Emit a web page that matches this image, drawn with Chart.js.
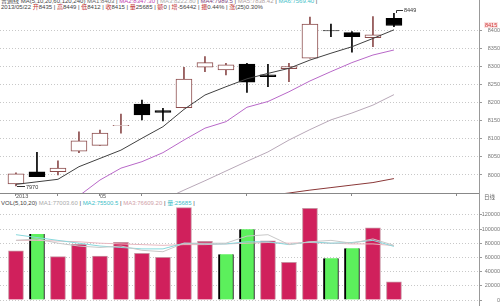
<!DOCTYPE html>
<html>
<head>
<meta charset="utf-8">
<script src="https://cdn.jsdelivr.net/npm/chart.js@4.4.0/dist/chart.umd.min.js"></script>
<style>
body{margin:0;background:#fff;width:500px;height:306px;overflow:hidden;position:relative;font-family:"Liberation Sans","Noto Sans CJK SC",sans-serif;}
.hd{position:absolute;left:1px;font-size:6px;line-height:6px;white-space:nowrap;color:#444;}
.hd b{font-weight:normal;color:#c03030;}
canvas{position:absolute;left:0;}
#vline{position:absolute;left:479px;top:0;width:1px;height:306px;background:#999;}
#tag{position:absolute;left:484px;top:22px;font-size:5.5px;line-height:6px;color:#d03030;background:#fbe3e3;padding:0 1px;}
#rx{position:absolute;left:484px;top:194px;font-size:5.5px;line-height:6px;color:#666;}
</style>
</head>
<body>
<div class="hd" style="top:-2px">普通线 MA(5,10,20,60,120,240) <span style="color:#666">MA1:8403</span> | <span style="color:#c040b0">MA2:8347.30</span> | <span style="color:#aaa">MA3:8222.80</span> | <span style="color:#7a3a7a">MA4:7989.5</span> | <span style="color:#b0a0a0">MA5:7838.42</span> | <span style="color:#40c0c8">MA6:7569.40</span> |</div>
<div class="hd" style="top:4px">2013/05/22 <b>开</b>8435 | <b>高</b>8449 | <b>低</b>8412 | <b>收</b>8415 | <b>量</b>25685 | <b>额</b>0 | <b>增</b>-56442 | <b>振</b>0.44% | <b>涨</b>(25)0.30%</div>
<div class="hd" style="top:200px">VOL(5,10,20) <span style="color:#aaa">MA1:77003.60</span> | <span style="color:#40c0c8">MA2:75500.5</span> | <span style="color:#d0a0a8">MA3:76609.20</span> | <span style="color:#40c0c8">量:25685</span> |</div>
<canvas id="main" width="500" height="200" style="top:0"></canvas>
<canvas id="vol" width="500" height="106" style="top:200px"></canvas>
<div id="vline"></div>
<div id="tag">8415</div>
<div id="rx">日线</div>
<script>
// daily bars 2013/04/23 - 2013/05/22
var dates = ['2013/04/23','04/24','04/25','04/26','05/02','05/03','05/06','05/07','05/08','05/09',
             '05/10','05/13','05/14','05/15','05/16','05/17','05/20','05/21','05/22'];
var open  = [7975, 8009, 8009, 8066, 8082, 8137, 8197, 8179, 8187, 8299, 8292, 8308, 8278, 8295, 8324, 8401, 8395, 8381, 8435];
var high  = [8006, 8063, 8039, 8120, 8125, 8169, 8208, 8185, 8299, 8329, 8310, 8310, 8307, 8310, 8438, 8419, 8398, 8440, 8449];
var low   = [7970, 7995, 8000, 8062, 8082, 8116, 8153, 8150, 8186, 8287, 8278, 8229, 8245, 8259, 8324, 8384, 8341, 8356, 8412];
var close = [8003, 7995, 8019, 8095, 8116, 8138, 8167, 8174, 8266, 8312, 8306, 8258, 8273, 8301, 8419, 8400, 8384, 8389, 8415];

var ma5  = [7974, 7981, 7988, 8023, 8046, 8069, 8102, 8134, 8182, 8222, 8245, 8267, 8282, 8296, 8319, 8338, 8356, 8379, 8403];
var ma10 = [null, null, null, 7942, 7986, 8019, 8037, 8062, 8097, 8130, 8148, 8188, 8204, 8231, 8261, 8287, 8312, 8333, 8347];
var ma20 = [null, null, null, null, null, null, null, 7931, 7958, 7984, 8011, 8038, 8064, 8097, 8126, 8153, 8172, 8194, 8223];
var ma60 = [null, null, null, null, null, null, null, null, null, null, null, null, 7943, 7950, 7958, 7965, 7972, 7979, 7990];

var volume = [69400, 93000, 61000, 78400, 62000, 81200, 65700, 60100, 130000, 82600, 64300, 99500, 83500, 53100, 129000, 58700, 72800, 101800, 25685];
var vma5  = [84000, 86000, 80000, 76000, 74000, 76000, 70000, 68000, 80000, 80000, 80000, 90000, 92000, 78000, 82000, 84000, 80000, 86000, 77004];
var vma10 = [92000, 88000, 84000, 80000, 76000, 74000, 72000, 72000, 80000, 79000, 79000, 82000, 82000, 78000, 82000, 80000, 81000, 84000, 75500];
var vma20 = [84000, 84000, 83000, 82000, 80000, 79000, 78000, 77000, 78000, 78000, 79000, 80000, 81000, 80000, 81000, 80000, 79000, 79000, 76609];

var priceTicks = [8000, 8050, 8100, 8150, 8200, 8250, 8300, 8350, 8400];
var volTicks = [0, 20000, 40000, 60000, 80000, 100000, 120000];
var xTicks = [0, 2, 4, 6, 11, 16, 21];
var xTickText = {0: '2013', 4: '05'};

var UP = '#8c4c4c', DOWN = '#000';
var tinyFont = {size: 5.5, family: 'Liberation Sans'};

function pts(arr) {
    var out = [];
    for (var i = 0; i < arr.length; i++) out.push({x: i, y: arr[i]});
    return out;
}
var bodies = [], wicks = [], bodyFill = [], bodyLine = [], wickCol = [], volCol = [], volLine = [], volBorder = [];
for (var i = 0; i < dates.length; i++) {
    var up = close[i] >= open[i];
    bodies.push({x: i, y: [open[i], close[i]]});
    wicks.push({x: i, y: [low[i], high[i]]});
    bodyFill.push(up ? '#fff' : DOWN);
    bodyLine.push(up ? UP : DOWN);
    wickCol.push(up ? UP : DOWN);
    var rise = i == 0 || close[i] >= close[i - 1];
    volCol.push(rise ? '#d0205c' : '#5cf05c');
    volLine.push(rise ? '#c890a0' : '#000');
    volBorder.push(rise ? 1 : {left: 2, right: 1, top: 0, bottom: 0});
}

var extremeLabels = {
    id: 'extremeLabels',
    afterDatasetsDraw: function (chart) {
        var ctx = chart.ctx, x = chart.scales.x, y = chart.scales.y;
        var hi = 0, lo = 0;
        for (var i = 1; i < high.length; i++) {
            if (high[i] > high[hi]) hi = i;
            if (low[i] < low[lo]) lo = i;
        }
        ctx.save();
        ctx.strokeStyle = '#333';
        ctx.fillStyle = '#333';
        ctx.lineWidth = 1;
        ctx.font = '5.5px "Liberation Sans"';
        ctx.textBaseline = 'middle';
        var px = Math.round(x.getPixelForValue(hi)), py = Math.round(y.getPixelForValue(high[hi]));
        ctx.beginPath();
        ctx.moveTo(px + 2.5, py);
        ctx.lineTo(px + 2.5, py - 2.5);
        ctx.lineTo(px + 9, py - 2.5);
        ctx.stroke();
        ctx.fillText(String(high[hi]), px + 10, py - 3);
        px = Math.round(x.getPixelForValue(lo));
        py = Math.round(y.getPixelForValue(low[lo]));
        ctx.beginPath();
        ctx.moveTo(px + 1, py + 0.5);
        ctx.lineTo(px + 9, py + 0.5);
        ctx.stroke();
        ctx.fillText(String(low[lo]), px + 10, py + 1);
        ctx.restore();
    }
};

function lineSet(data, color, order) {
    return {type: 'line', data: pts(data), borderColor: color, borderWidth: 1, pointRadius: 0,
            tension: 0, spanGaps: false, order: order};
}

function plain(v) { return String(v); }

var xMain = {
    type: 'linear', min: -0.76, max: 22.05, offset: false,
    afterFit: function (s) { s.height = 7; },
    afterBuildTicks: function (s) { s.ticks = xTicks.map(function (v) { return {value: v}; }); },
    ticks: {
        font: tinyFont, color: '#555', align: 'start', padding: -3, autoSkip: false, maxRotation: 0,
        callback: function (v) { return xTickText[v] || ''; }
    },
    grid: {drawOnChartArea: false, drawTicks: true, tickLength: 3, tickColor: '#888', offset: false},
    border: {display: true, color: '#888'}
};

new Chart(document.getElementById('main'), {
    type: 'bar',
    data: {
        datasets: [
            lineSet(ma5, '#404040', 0),
            lineSet(ma10, '#b868c8', 0),
            lineSet(ma20, '#b8a8b8', 0),
            lineSet(ma60, '#8a3838', 0),
            {data: bodies, backgroundColor: bodyFill, borderColor: bodyLine, borderWidth: 1,
             borderSkipped: false, barThickness: 16, grouped: false, order: 1},
            {data: wicks, backgroundColor: wickCol, borderWidth: 0, barThickness: 1, grouped: false, order: 2}
        ]
    },
    options: {
        responsive: false, animation: false, events: [],
        layout: {padding: {top: 10, left: 0, right: 0, bottom: 0}},
        plugins: {legend: {display: false}, tooltip: {enabled: false}},
        scales: {
            x: xMain,
            y: {
                position: 'right', min: 7950, max: 8458,
                afterFit: function (s) { s.width = 21; },
                afterBuildTicks: function (s) { s.ticks = priceTicks.map(function (v) { return {value: v}; }); },
                ticks: {font: tinyFont, color: '#777', padding: 1, crossAlign: 'far', callback: plain},
                grid: {color: '#c8c8c8', lineWidth: 1, tickLength: 3, tickColor: '#999'},
                border: {display: true, color: '#999', dash: [1, 2]}
            }
        }
    },
    plugins: [extremeLabels]
});

new Chart(document.getElementById('vol'), {
    type: 'bar',
    data: {
        datasets: [
            lineSet(vma5, '#c8c8c8', 0),
            lineSet(vma10, '#88d8dc', 0),
            lineSet(vma20, '#e8b8c0', 0),
            {data: pts(volume), backgroundColor: volCol, borderColor: volLine, borderWidth: volBorder,
             barThickness: 15, grouped: false, order: 1}
        ]
    },
    options: {
        responsive: false, animation: false, events: [],
        layout: {padding: {top: 6, left: 0, right: 0, bottom: 6}},
        plugins: {legend: {display: false}, tooltip: {enabled: false}},
        scales: {
            x: {type: 'linear', min: -0.76, max: 22.05, offset: false, display: false},
            y: {
                position: 'right', min: 0, max: 132400,
                afterFit: function (s) { s.width = 21; },
                afterBuildTicks: function (s) { s.ticks = volTicks.map(function (v) { return {value: v}; }); },
                ticks: {font: tinyFont, color: '#777', padding: 1, crossAlign: 'far', callback: plain},
                grid: {color: '#c8c8c8', lineWidth: 1, tickLength: 3, tickColor: '#999'},
                border: {display: true, color: '#999', dash: [1, 2]}
            }
        }
    }
});
</script>
</body>
</html>
